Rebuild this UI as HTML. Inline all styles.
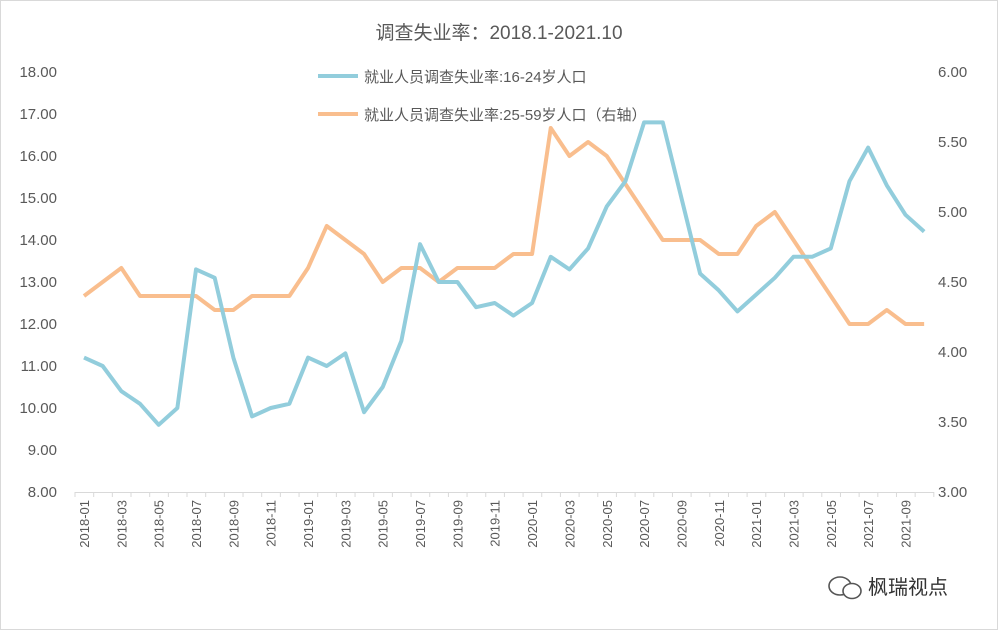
<!DOCTYPE html>
<html><head><meta charset="utf-8"><style>
html,body{margin:0;padding:0;background:#fff}
svg{display:block;font-family:"Liberation Sans","Noto Sans CJK SC",sans-serif}
</style></head><body>
<svg id="c" width="998" height="630" viewBox="0 0 998 630" xmlns="http://www.w3.org/2000/svg">
<rect x="0.5" y="0.5" width="997" height="629" fill="#fff" stroke="#d9d9d9"/>
<text x="499" y="39" font-size="19" text-anchor="middle" fill="#595959">调查失业率：2018.1-2021.10</text>
<g id="g"></g>
<line x1="318" y1="76" x2="358" y2="76" stroke="#92CDDC" stroke-width="4"/>
<text x="364" y="82" font-size="15" fill="#595959">就业人员调查失业率:16-24岁人口</text>
<line x1="318" y1="114" x2="358" y2="114" stroke="#F9BE8E" stroke-width="4"/>
<text x="364" y="120" font-size="15" fill="#595959">就业人员调查失业率:25-59岁人口（右轴）</text>
<g transform="translate(840,586)">
<ellipse cx="0" cy="0" rx="11" ry="9" fill="none" stroke="#555" stroke-width="1.6"/>
<ellipse cx="12" cy="5" rx="9" ry="7.5" fill="#fff" stroke="#555" stroke-width="1.6"/>
</g>
<text x="868" y="594" font-size="20" fill="#333">枫瑞视点</text>
</svg>
<script>
var b=[11.2,11.0,10.4,10.1,9.6,10.0,13.3,13.1,11.2,9.8,10.0,10.1,11.2,11.0,11.3,9.9,10.5,11.6,13.9,13.0,13.0,12.4,12.5,12.2,12.5,13.6,13.3,13.8,14.8,15.4,16.8,16.8,15.0,13.2,12.8,12.3,12.7,13.1,13.6,13.6,13.8,15.4,16.2,15.3,14.6,14.2];
var o=[4.4,4.5,4.6,4.4,4.4,4.4,4.4,4.3,4.3,4.4,4.4,4.4,4.6,4.9,4.8,4.7,4.5,4.6,4.6,4.5,4.6,4.6,4.6,4.7,4.7,5.6,5.4,5.5,5.4,5.2,5.0,4.8,4.8,4.8,4.7,4.7,4.9,5.0,4.8,4.6,4.4,4.2,4.2,4.3,4.2,4.2];
var X=function(i){return 84+i*18.67};
var s='';
for(var v=8;v<=18;v++){var y=492-(v-8)*42;s+='<text x="57" y="'+(y+5)+'" font-size="15" text-anchor="end" fill="#595959">'+v.toFixed(2)+'</text>';}
for(var k=0;k<=6;k++){var r=3+k*0.5,y=492-k*70;s+='<text x="938" y="'+(y+5)+'" font-size="15" fill="#595959">'+r.toFixed(2)+'</text>';}
s+='<line x1="75" y1="492.5" x2="934" y2="492.5" stroke="#d9d9d9"/>';
for(var i=0;i<=46;i++){var x=75+i*18.67;s+='<line x1="'+x+'" y1="492" x2="'+x+'" y2="497" stroke="#d9d9d9"/>';}
for(var i=0;i<46;i+=2){var yr=2018+Math.floor(i/12),m=i%12+1;var t=yr+'-'+(m<10?'0':'')+m;
s+='<text transform="translate('+(X(i)+5)+',500) rotate(-90)" font-size="13" text-anchor="end" fill="#595959">'+t+'</text>';}
var pb=b.map(function(v,i){return X(i)+','+(492-(v-8)*42)}).join(' ');
var po=o.map(function(v,i){return X(i)+','+(492-(v-3)*140)}).join(' ');
s+='<polyline points="'+po+'" fill="none" stroke="#F9BE8E" stroke-width="4" stroke-linejoin="round"/>';
s+='<polyline points="'+pb+'" fill="none" stroke="#92CDDC" stroke-width="4" stroke-linejoin="round"/>';
document.getElementById('g').innerHTML=s;
</script>
</body></html>
